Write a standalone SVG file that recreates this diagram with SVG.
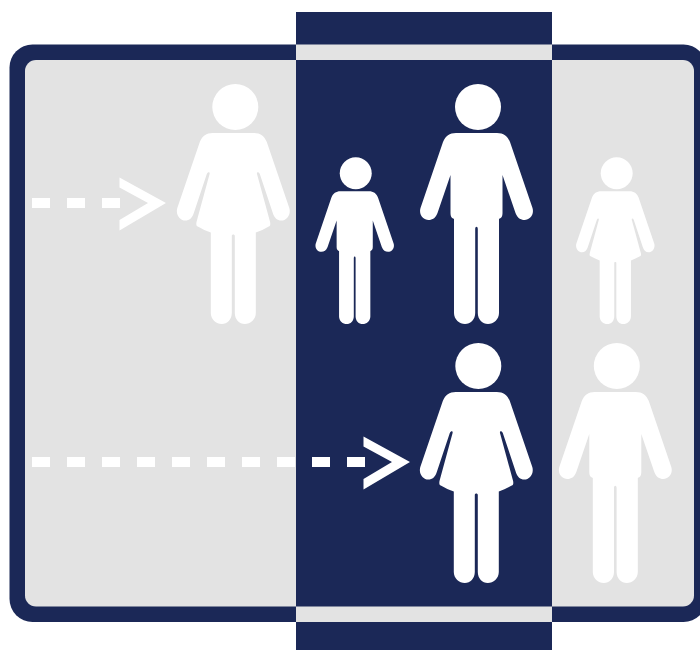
<svg xmlns="http://www.w3.org/2000/svg" width="700" height="650" viewBox="0 0 700 650">
  <style>
    .navy { fill: #1b2857; }
    .gray { fill: #e3e3e3; }
    .fig { fill: #ffffff; }
    .dash { fill: none; stroke: #ffffff; stroke-width: 10; stroke-dasharray: 18 17; }
    .head { fill: #ffffff; }
  </style>
  <defs>
    <g id="man">
      <circle class="head" cx="1.5" cy="23" r="23"/>
      <path class="fig" d="M-20.500,49 H20.500 C27,49 31,52 33.500,58 L56,124 C58,131 53,136 48,136 C44,136 41,134 39,129 L26,91 V129 C26,133 24.500,134 22.500,135 V229 C22.500,235.500 17,240 11.500,240 C6,240 1.300,235.500 1.300,229 V145 C1.300,142 -1.300,142 -1.300,145 V229 C-1.300,235.500 -6,240 -11.500,240 C-17,240 -22.500,235.500 -22.500,229 V135 C-24.500,134 -26,133 -26,129 V91 L-39,129 C-41,134 -44,136 -48,136 C-53,136 -58,131 -56,124 L-33.500,58 C-31,52 -27,49 -20.500,49 Z"/>
    </g>
    <g id="woman">
      <circle class="head" cx="2" cy="23" r="23"/>
      <path class="fig" d="M-20.500,49 H20.500 C27,49 31,52 33.500,58 L56,124 C58,131 53,136.500 48,136.500 C44,136.500 41,134 39.500,129 L26.500,90 C25.500,87.500 23.200,87.500 23.700,90 L36.800,138 C37.300,141 36.800,142 35.500,142.500 C31,145 27,147 22.500,148.500 V229 C22.500,235.500 17,240 11.500,240 C6,240 1.500,235.500 1.500,229 V152 C1.500,150 -1.500,150 -1.500,152 V229 C-1.500,235.500 -6,240 -11.500,240 C-17,240 -22.500,235.500 -22.500,229 V148.500 C-27,147 -31,145 -35.500,142.500 C-36.800,142 -37.300,141 -36.800,138 L-23.700,90 C-23.200,87.500 -25.500,87.500 -26.500,90 L-39.500,129 C-41,134 -44,136.500 -48,136.500 C-53,136.500 -58,131 -56,124 L-33.500,58 C-31,52 -27,49 -20.500,49 Z"/>
    </g>
    <polygon id="chev" class="fig" points="363.500,436.500 410,462 363.500,489.500 363.500,479 392,462 363.500,446.500"/>
  </defs>

  <g id="frame">
    <rect class="navy" x="9.500" y="44.500" width="697" height="577.500" rx="23" ry="23"/>
    <rect class="gray" x="25" y="60" width="669" height="546.500" rx="11" ry="11"/>
  </g>
  <g id="column">
    <rect class="navy" x="296" y="12" width="256" height="638"/>
    <rect class="gray" x="296" y="44.500" width="256" height="15.500"/>
    <rect class="gray" x="296" y="606.500" width="256" height="15.500"/>
  </g>

  <g id="connectors">
    <g id="arrow-top">
      <line class="dash" x1="32" y1="203" x2="120" y2="203"/>
      <use href="#chev" transform="translate(-244,-259)"/>
    </g>
    <g id="arrow-bottom">
      <line class="dash" x1="32" y1="462" x2="365" y2="462"/>
      <use href="#chev"/>
    </g>
  </g>

  <g id="person-woman-left"><use href="#woman" transform="translate(233.300,84)"/></g>
  <g id="person-child-boy"><use href="#man" transform="translate(354.700,157.300) scale(0.695)"/></g>
  <g id="person-man-center"><use href="#man" transform="translate(476.500,84)"/></g>
  <g id="person-child-girl"><use href="#woman" transform="translate(615.300,157.300) scale(0.695)"/></g>
  <g id="person-woman-center"><use href="#woman" transform="translate(476.300,343)"/></g>
  <g id="person-man-right"><use href="#man" transform="translate(615.300,343)"/></g>
</svg>
